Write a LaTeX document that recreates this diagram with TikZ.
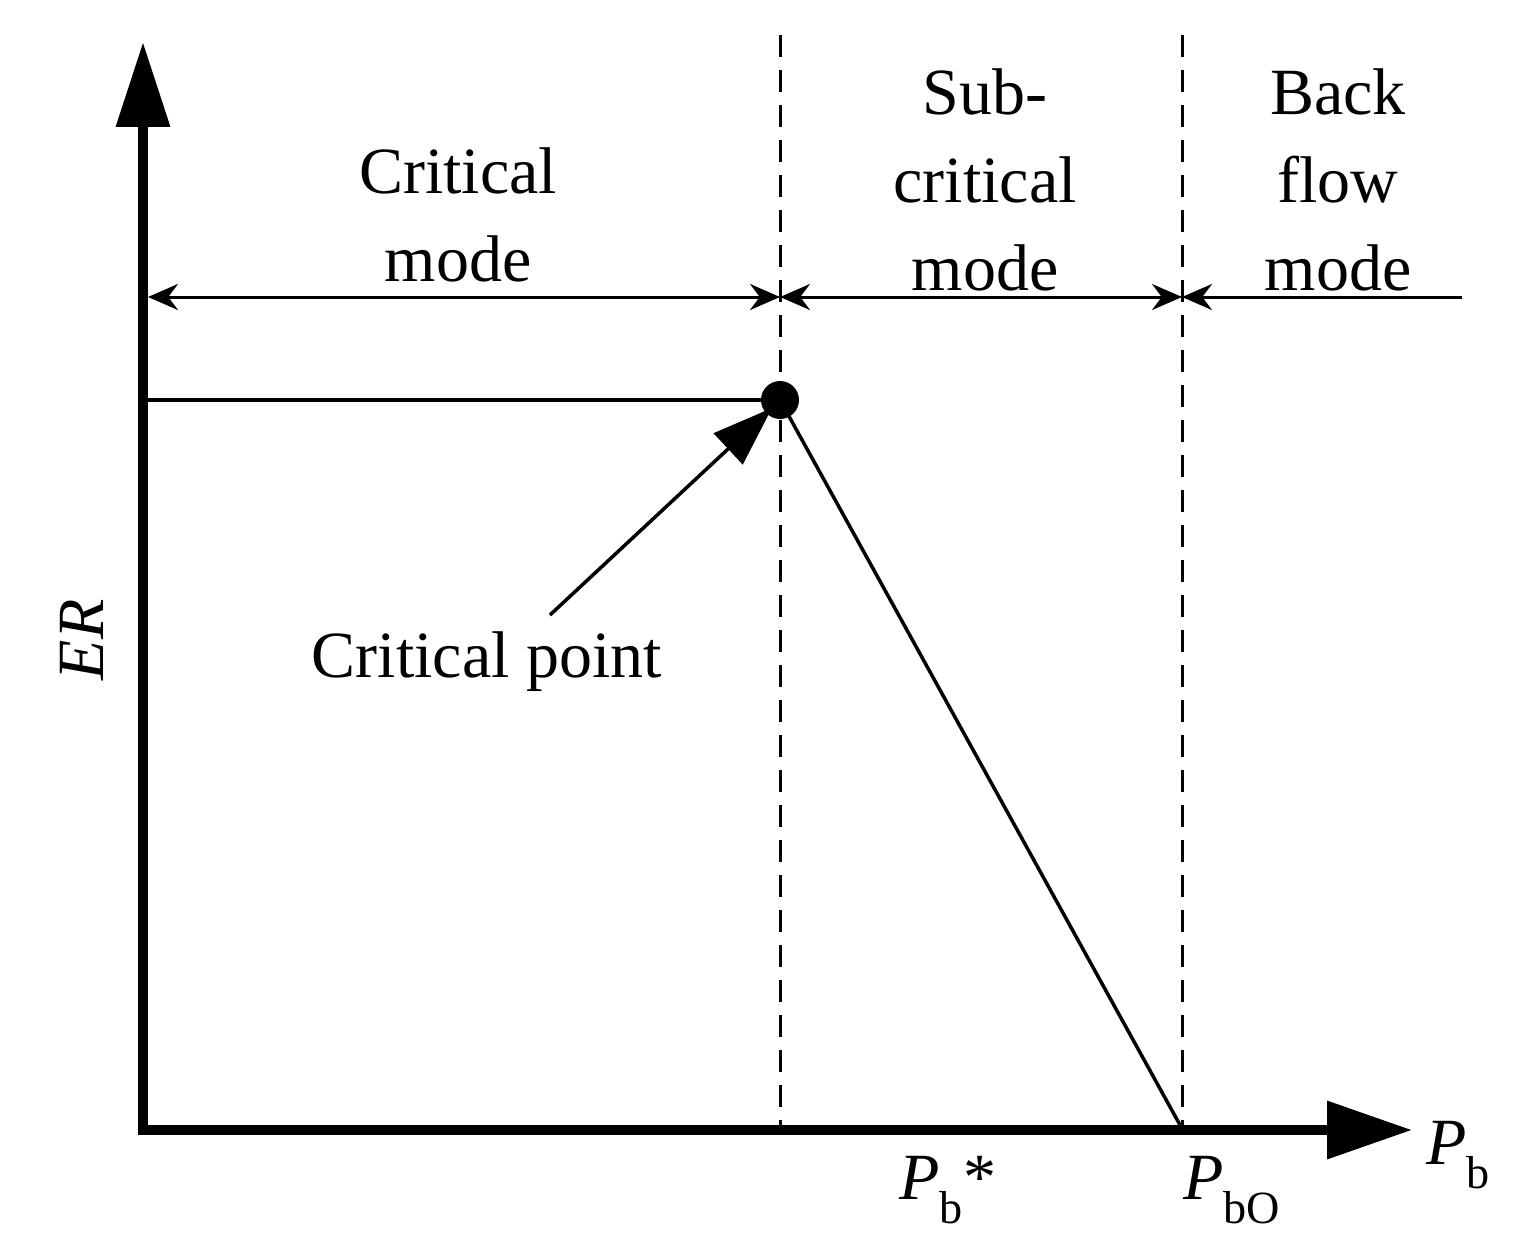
\documentclass[tikz,border=0pt]{standalone}
\usepackage{fontspec}
\setmainfont{Liberation Serif}
\usetikzlibrary{arrows.meta}
\begin{document}
\begin{tikzpicture}[x=1pt,y=-1pt,
  lbl/.style={align=center,font=\fontsize{66}{88}\selectfont},
  dim/.style={line width=3pt,{Stealth[length=30pt,width=26pt]}-{Stealth[length=30pt,width=26pt]}},
  dsh/.style={line width=3pt,dash pattern=on 22pt off 13pt}]
\useasboundingbox (0,0) rectangle (1536,1257);
\coordinate (o) at (143,1130);
\coordinate (ytop) at (143,42);
\coordinate (xend) at (1412,1130);
\draw[line width=10pt,-{Triangle[length=85pt,width=52pt]}] (143,1135) -- (ytop);
\draw[line width=10pt,-{Triangle[length=85pt,width=56pt]}] (138,1130) -- (xend);
\coordinate (d1t) at (780,35); \coordinate (d1b) at (780,1130);
\coordinate (d2t) at (1182,35); \coordinate (d2b) at (1182,1130);
\draw[dsh] (d1t) -- (d1b);
\draw[dsh] (d2t) -- (d2b);
\coordinate (a0) at (148,297); \coordinate (a1) at (780,297);
\coordinate (a2) at (1182,297); \coordinate (a3) at (1462,297);
\draw[dim] (a0) -- (a1);
\draw[dim] (a1) -- (a2);
\draw[line width=3pt,{Stealth[length=30pt,width=26pt]}-] (a2) -- (a3);
\coordinate (h0) at (148,400);
\node[circle,fill,inner sep=0pt,minimum size=38pt] (cp) at (780,400) {};
\draw[line width=3.5pt] (h0) -- (cp.center);
\coordinate (pbo) at (1180,1125);
\draw[line width=3.5pt] (cp.center) -- (pbo);
\node[lbl] (cpl) at (487,662) {Critical point};
\coordinate (as) at (550,615); \coordinate (ae) at (772,408);
\draw[line width=3.5pt,-{Triangle[length=60pt,width=42pt]}] (as) -- (ae);
\node[lbl] (m1) at (458,215) {Critical\\mode};
\node[lbl] (m2) at (985,180) {Sub-\\critical\\mode};
\node[lbl] (m3) at (1338,180) {Back\\flow\\mode};
\node[lbl,rotate=90] (er) at (82,640) {\textit{ER}};
\node[lbl] (xl) at (1458,1155) {\textit{P}\textsubscript{b}};
\node[lbl] (p1) at (948,1190) {\textit{P}\textsubscript{b}*};
\node[lbl] (p2) at (1232,1190) {\textit{P}\textsubscript{bO}};
\end{tikzpicture}
\end{document}
